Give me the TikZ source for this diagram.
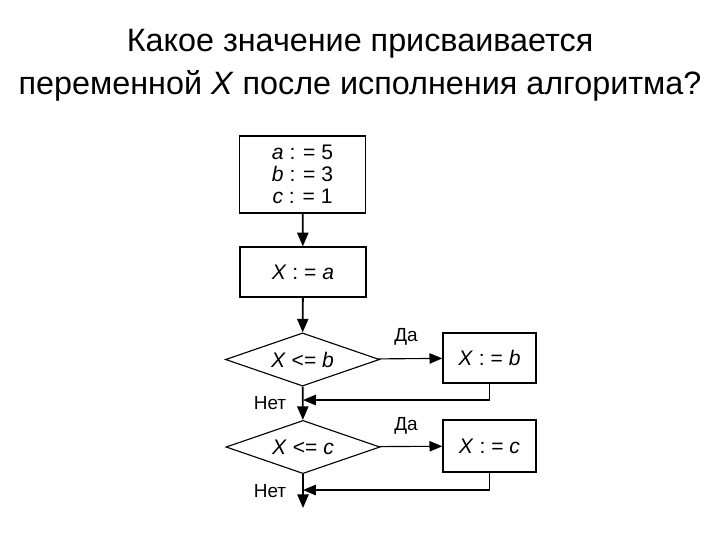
\documentclass[tikz,border=0pt]{standalone}
\usepackage{fontspec}
\setmainfont{Liberation Sans}
\usetikzlibrary{positioning,arrows.meta,shapes.geometric}
\tikzset{
  flowarrow/.style={-{Triangle[length=3.4mm,width=2.8mm]}, line width=1.3pt},
  backarrow/.style={-{Triangle[length=3.2mm,width=2.6mm]}, line width=0.8pt},
  opbox/.style={draw, line width=1pt, minimum height=1.25cm, inner sep=2pt, align=center, font=\fontsize{15}{15.5}\selectfont},
  testnode/.style={draw, diamond, aspect=3, inner sep=0pt, line width=0.8pt, minimum width=3.85cm, minimum height=1.33cm, font=\fontsize{15}{15.5}\selectfont},
  edgelabel/.style={font=\fontsize{13.5}{15}\selectfont}
}
\begin{document}
\begin{tikzpicture}[x=0.025cm, y=-0.025cm]
  \useasboundingbox (0,0) rectangle (720,540);
  % question
  \node[align=center, font=\fontsize{23}{30.5}\selectfont] (title) at (360,65)
    {Какое значение присваивается\\переменной \textit{X} после исполнения алгоритма?};
  % blocks
  \node[opbox, minimum width=3.15cm, minimum height=1.925cm] (init) at (302.5,174.5)
    {\textit{a} : = 5\\\textit{b} : = 3\\\textit{c} : = 1};
  \node[opbox, minimum width=3.15cm] (setx) at (303,272) {\textit{X} : = \textit{a}};
  \node[testnode] (testb) at (302.5,359.5) {\textit{X} <= \textit{b}};
  \node[opbox, minimum width=2.325cm] (setb) at (489.5,358) {\textit{X} : = \textit{b}};
  \node[testnode] (testc) at (303,447) {\textit{X} <= \textit{c}};
  \node[opbox, minimum width=2.325cm, minimum height=1.3cm] (setc) at (489.5,446) {\textit{X} : = \textit{c}};
  \coordinate (joinb) at (303,400);
  \coordinate (joinc) at (303,490);
  \coordinate (stop) at (303,508);
  % arrows
  \draw[flowarrow] (init) -- (setx);
  \draw[flowarrow] (setx) -- (testb);
  \draw[flowarrow] (testb) -- (testc);
  \draw[flowarrow] (testc) -- (stop);
  \draw[backarrow] (testb) -- (setb);
  \draw[backarrow] (testc) -- (setc);
  \draw[backarrow] (setb.south) |- (joinb);
  \draw[backarrow] (setc.south) |- (joinc);
  % labels
  \node[edgelabel] (yesb) at (406,337) {Да};
  \node[edgelabel] (nob) at (270,403) {Нет};
  \node[edgelabel] (yesc) at (406,426) {Да};
  \node[edgelabel] (noc) at (270,491) {Нет};
\end{tikzpicture}
\end{document}
